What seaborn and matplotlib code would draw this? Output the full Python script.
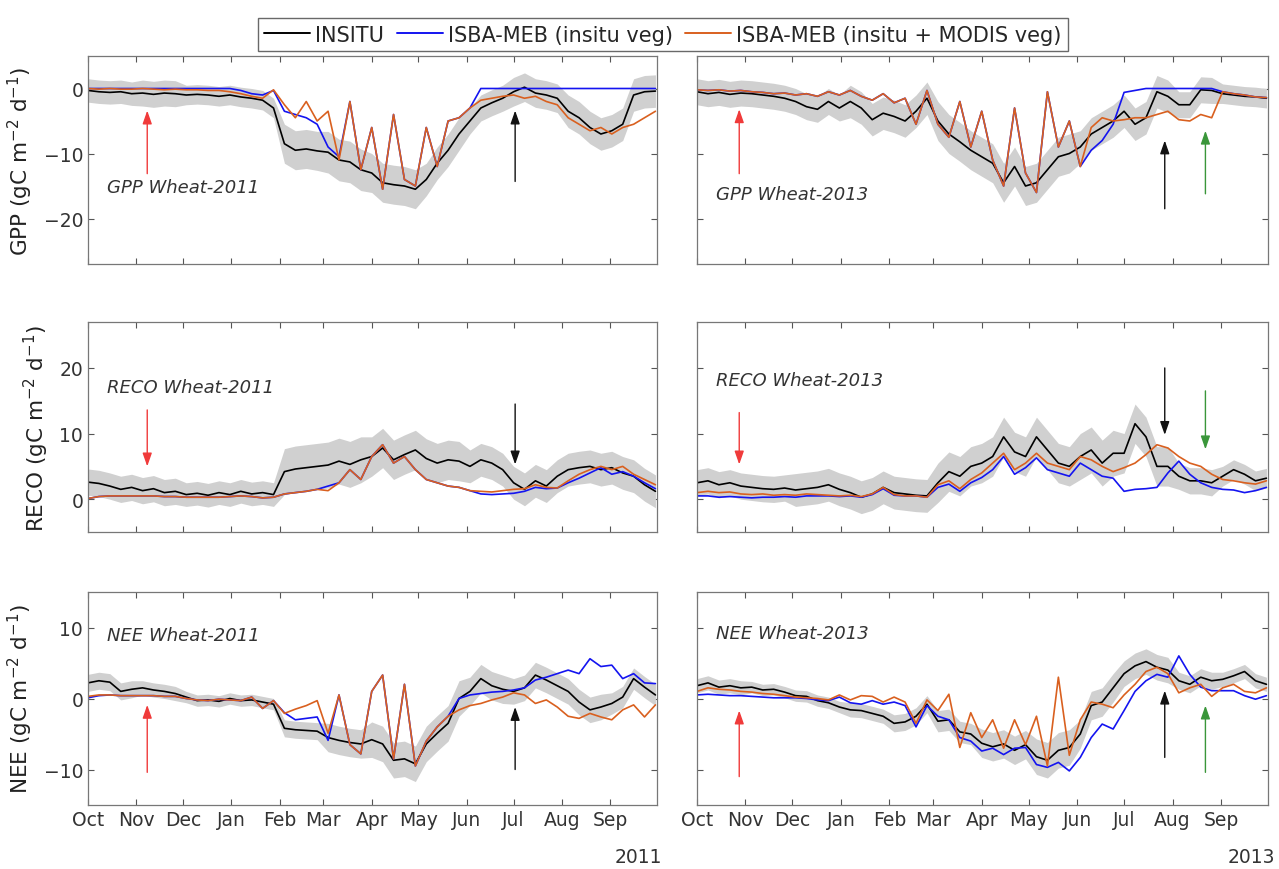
#!/usr/bin/env python3

import numpy as np
import pandas as pd
import matplotlib
matplotlib.use("Agg")
import matplotlib.pyplot as plt
import seaborn as sns
from matplotlib.lines import Line2D

# weekly samples, day 0 = 1 Oct
days = np.arange(0, 365, 7)

series_names = ["INSITU", "ISBA-MEB (insitu veg)", "ISBA-MEB (insitu + MODIS veg)"]
series_colors = ["#000000", "#1414f0", "#d9601f"]

# ---- GPP ----
gpp_2011_insitu = [-0.3, -0.5, -0.6, -0.5, -0.8, -0.7, -0.9, -0.7, -0.8, -1.0,
                   -0.9, -1.0, -1.2, -1.0, -1.3, -1.5, -1.8, -3.0, -8.5, -9.5,
                   -9.3, -9.6, -9.8, -11.0, -11.3, -12.5, -13.0, -14.5, -14.8, -15.0,
                   -15.5, -14.0, -11.5, -9.5, -7.0, -5.0, -3.0, -2.2, -1.5, -0.5,
                   0.2, -0.7, -1.0, -1.5, -3.5, -4.5, -6.0, -7.0, -6.5, -5.5,
                   -1.0, -0.5, -0.4]
gpp_2011_meb = [0.0, 0.0, 0.0, 0.0, 0.0, 0.0, 0.0, 0.0, 0.0, 0.0,
                0.0, 0.0, 0.0, 0.0, -0.3, -0.8, -1.0, -0.3, -3.5, -4.0,
                -4.5, -5.5, -9.0, -10.5, -2.0, -12.5, -6.0, -15.5, -4.0, -14.0,
                -15.0, -6.0, -12.0, -5.0, -4.5, -3.0, 0.0, 0.0, 0.0, 0.0,
                0.0, 0.0, 0.0, 0.0, 0.0, 0.0, 0.0, 0.0, 0.0, 0.0,
                0.0, 0.0, 0.0]
gpp_2011_modis = [0.0, -0.1, 0.0, -0.1, -0.1, 0.0, -0.1, -0.2, -0.1, -0.2,
                  -0.2, -0.3, -0.3, -0.5, -0.8, -1.2, -1.5, -0.2, -2.5, -4.5,
                  -2.0, -5.0, -3.5, -11.0, -2.0, -12.5, -6.0, -15.5, -4.0, -14.0,
                  -15.0, -6.0, -12.0, -5.0, -4.5, -3.0, -1.8, -1.5, -1.2, -1.0,
                  -1.5, -1.2, -2.0, -2.5, -4.5, -5.5, -6.5, -6.0, -7.0, -6.0,
                  -5.5, -4.5, -3.5]
gpp_2013_insitu = [-0.5, -0.8, -0.6, -0.9, -0.7, -0.8, -1.0, -1.2, -1.5, -2.0,
                   -2.8, -3.2, -2.0, -3.0, -2.0, -3.0, -4.8, -3.8, -4.3, -5.0,
                   -3.5, -1.5, -5.0, -7.0, -8.2, -9.5, -10.5, -11.5, -14.5, -12.0,
                   -15.0, -14.5, -12.5, -10.5, -10.0, -9.0, -7.0, -6.0, -5.0, -3.5,
                   -5.5, -4.5, -0.5, -1.2, -2.5, -2.5, -0.2, -0.3, -0.8, -1.0,
                   -1.2, -1.3, -1.5]
gpp_2013_meb = [-0.2, -0.3, -0.2, -0.4, -0.3, -0.5, -0.6, -0.8, -0.7, -1.0,
                -0.8, -1.2, -0.5, -1.0, -0.3, -1.2, -1.8, -0.8, -2.2, -1.5,
                -5.5, -0.3, -5.5, -7.5, -2.0, -9.0, -3.5, -11.0, -15.0, -3.0,
                -13.0, -16.0, -0.5, -9.0, -5.0, -12.0, -9.5, -8.0, -5.5, -0.6,
                -0.3, 0.0, 0.0, 0.0, 0.0, 0.0, 0.0, 0.0, -0.5, -0.8,
                -1.0, -1.3, -1.4]
gpp_2013_modis = [-0.2, -0.3, -0.2, -0.4, -0.3, -0.5, -0.6, -0.8, -0.7, -1.0,
                  -0.8, -1.2, -0.5, -1.0, -0.3, -1.2, -1.8, -0.8, -2.2, -1.5,
                  -5.5, -0.3, -5.5, -7.5, -2.0, -9.0, -3.5, -11.0, -15.0, -3.0,
                  -13.0, -16.0, -0.5, -9.0, -5.0, -12.0, -6.0, -4.5, -5.0, -4.8,
                  -4.5, -4.5, -4.0, -3.5, -4.8, -5.0, -4.0, -4.5, -0.5, -0.8,
                  -1.0, -1.3, -1.4]

# ---- RECO ----
reco_2011_insitu = [2.6, 2.4, 2.0, 1.5, 1.8, 1.3, 1.6, 1.0, 1.2, 0.7,
                    0.9, 0.6, 1.0, 0.7, 1.2, 0.8, 1.0, 0.7, 4.2, 4.6,
                    4.8, 5.0, 5.2, 5.8, 5.3, 6.0, 6.5, 7.8, 6.0, 6.8,
                    7.5, 6.2, 5.5, 6.0, 5.8, 5.0, 6.0, 5.5, 4.5, 2.5,
                    1.5, 2.8, 2.0, 3.5, 4.5, 4.8, 5.0, 4.5, 4.8, 4.0,
                    3.5, 2.2, 1.2]
reco_2011_meb = [0.1, 0.4, 0.5, 0.5, 0.5, 0.5, 0.5, 0.4, 0.4, 0.3,
                 0.3, 0.3, 0.3, 0.4, 0.5, 0.4, 0.2, 0.3, 0.8, 1.0,
                 1.2, 1.5, 2.0, 2.5, 4.5, 3.0, 6.5, 8.3, 5.5, 6.5,
                 4.5, 3.0, 2.5, 2.0, 1.8, 1.3, 0.8, 0.7, 0.8, 0.9,
                 1.2, 1.8, 1.6, 1.7, 2.5, 3.2, 4.0, 4.8, 3.8, 4.2,
                 3.5, 2.5, 1.6]
reco_2011_modis = [0.1, 0.4, 0.5, 0.5, 0.5, 0.5, 0.5, 0.4, 0.4, 0.3,
                   0.3, 0.3, 0.3, 0.4, 0.5, 0.4, 0.2, 0.3, 0.8, 1.0,
                   1.2, 1.5, 1.3, 2.5, 4.5, 3.0, 6.5, 8.3, 5.5, 6.5,
                   4.5, 3.0, 2.5, 2.0, 1.8, 1.3, 1.2, 1.1, 1.3, 1.5,
                   1.6, 2.2, 1.8, 1.7, 2.8, 3.8, 4.5, 5.0, 4.5, 5.0,
                   3.8, 3.0, 2.2]
reco_2013_insitu = [2.5, 2.8, 2.2, 2.5, 2.0, 1.8, 1.6, 1.5, 1.7, 1.4,
                    1.6, 1.8, 2.2, 1.5, 1.0, 0.3, 0.8, 1.8, 1.0, 0.8,
                    0.6, 0.5, 2.5, 4.2, 3.5, 5.0, 5.5, 6.5, 9.5, 7.2,
                    6.5, 9.5, 7.5, 5.5, 5.0, 6.5, 7.5, 5.5, 7.0, 7.0,
                    11.5, 9.5, 5.0, 5.0, 3.5, 2.8, 2.8, 2.5, 3.5, 4.5,
                    3.8, 2.8, 3.2]
reco_2013_meb = [0.5, 0.5, 0.3, 0.4, 0.3, 0.2, 0.3, 0.3, 0.4, 0.3,
                 0.5, 0.5, 0.5, 0.4, 0.5, 0.3, 0.7, 1.6, 0.6, 0.5,
                 0.5, 0.3, 1.8, 2.3, 1.2, 2.5, 3.3, 4.5, 6.5, 3.8,
                 4.8, 6.3, 4.5, 4.0, 3.5, 5.5, 4.5, 3.5, 3.2, 1.2,
                 1.5, 1.6, 1.8, 4.0, 5.8, 3.8, 2.5, 1.8, 1.5, 1.4,
                 1.0, 1.3, 1.8]
reco_2013_modis = [1.0, 1.2, 1.0, 1.1, 0.8, 0.7, 0.8, 0.6, 0.7, 0.6,
                   0.8, 0.7, 0.6, 0.5, 0.6, 0.4, 0.8, 1.8, 0.7, 0.5,
                   0.5, 0.3, 2.2, 2.8, 1.6, 3.0, 4.0, 5.5, 7.0, 4.5,
                   5.5, 7.0, 5.5, 5.0, 4.5, 6.5, 6.0, 5.0, 4.2, 4.8,
                   5.5, 6.8, 8.3, 7.8, 6.5, 5.5, 5.0, 3.8, 3.0, 2.8,
                   2.5, 2.3, 2.8]

# ---- NEE ----
nee_2011_insitu = [2.2, 2.5, 2.3, 1.0, 1.3, 1.5, 1.2, 1.0, 0.7, 0.2,
                   -0.3, -0.2, -0.4, 0.0, -0.3, -0.2, -0.5, -0.8, -4.2, -4.4,
                   -4.5, -4.6, -5.5, -5.9, -6.2, -6.4, -5.8, -6.4, -8.7, -8.5,
                   -9.2, -6.4, -4.9, -3.5, 0.0, 1.0, 2.8, 1.8, 1.3, 1.0,
                   1.5, 3.3, 2.6, 1.8, 1.0, -0.5, -1.6, -1.2, -0.7, 0.2,
                   2.8, 1.6, 0.5]
nee_2011_meb = [0.1, 0.4, 0.5, 0.4, 0.4, 0.4, 0.4, 0.3, 0.3, 0.0,
                -0.2, -0.3, -0.1, -0.2, -0.3, 0.2, -1.4, -0.3, -2.0, -3.0,
                -2.8, -2.6, -5.9, 0.5, -6.5, -7.8, 1.0, 3.3, -8.5, 2.0,
                -9.5, -6.0, -4.0, -2.5, 0.0, 0.5, 0.7, 0.9, 1.0, 1.2,
                1.5, 2.6, 3.0, 3.5, 4.0, 3.5, 5.6, 4.5, 4.7, 2.8,
                3.5, 2.2, 2.1]
nee_2011_modis = [0.3, 0.5, 0.5, 0.4, 0.4, 0.4, 0.4, 0.3, 0.3, 0.0,
                  -0.2, -0.3, -0.1, -0.2, -0.3, 0.2, -1.4, -0.3, -2.1, -1.5,
                  -1.0, -0.3, -4.9, 0.5, -6.5, -7.8, 1.0, 3.3, -8.5, 2.0,
                  -9.5, -6.0, -4.0, -2.5, -1.6, -1.0, -0.7, -0.2, 0.2, 0.8,
                  0.5, -0.7, -0.2, -1.2, -2.5, -2.8, -2.1, -2.6, -3.0, -1.6,
                  -0.9, -2.6, -0.9]
nee_2013_insitu = [1.8, 2.2, 1.6, 1.8, 1.5, 1.6, 1.2, 1.3, 0.9, 0.4,
                   0.3, -0.3, -0.6, -1.2, -1.6, -1.7, -2.1, -2.5, -3.5, -3.3,
                   -2.5, -0.8, -3.2, -3.0, -4.7, -5.0, -6.3, -6.8, -6.4, -7.3,
                   -6.5, -8.2, -8.7, -7.3, -6.9, -5.0, -1.0, -0.5, 1.5, 3.5,
                   4.6, 5.2, 4.4, 4.0, 2.5, 2.0, 3.0, 2.5, 2.7, 3.2,
                   3.8, 2.5, 2.0]
nee_2013_meb = [0.5, 0.6, 0.5, 0.4, 0.4, 0.3, 0.2, 0.1, 0.1, 0.1,
                0.0, -0.2, -0.3, 0.2, -0.6, -0.8, -0.3, -0.8, -0.5, -1.0,
                -4.0, -1.0, -2.5, -3.0, -5.5, -6.0, -7.4, -7.0, -7.9, -7.0,
                -6.9, -9.3, -9.7, -9.0, -10.2, -8.3, -5.5, -3.6, -4.3, -1.7,
                1.0, 2.5, 3.4, 3.0, 6.0, 3.4, 1.6, 1.1, 1.1, 1.1,
                0.4, -0.1, 0.4]
nee_2013_modis = [1.0, 1.5, 1.3, 1.2, 1.0, 0.9, 0.7, 0.6, 0.4, 0.2,
                  0.1, 0.0, -0.2, 0.5, -0.2, 0.4, 0.3, -0.5, 0.2, -0.5,
                  -3.5, -0.2, -1.7, 0.6, -6.9, -2.0, -5.5, -3.0, -7.0, -3.0,
                  -6.5, -2.5, -9.5, 3.0, -8.0, -3.0, -0.5, -0.8, -1.3, 0.5,
                  2.0, 3.8, 4.4, 3.5, 0.8, 1.5, 2.0, 0.3, 1.5, 2.0,
                  1.0, 0.8, 1.5]

# half width of the grey insitu uncertainty band, per month Oct..Sep
gpp_2011_band = [1.8, 2.0, 1.5, 1.5, 3.0, 3.2, 3.0, 2.5, 2.0, 2.2, 2.5, 2.5]
gpp_2013_band = [2.0, 2.0, 2.0, 2.5, 2.5, 3.0, 3.0, 3.0, 2.5, 2.5, 2.0, 1.5]
reco_2011_band = [2.0, 2.0, 1.8, 1.8, 3.5, 3.5, 3.0, 3.0, 2.5, 2.5, 2.5, 2.5]
reco_2013_band = [2.0, 2.0, 2.5, 2.5, 2.5, 3.0, 3.0, 3.0, 3.5, 3.0, 2.0, 1.5]
nee_2011_band = [1.2, 1.0, 0.8, 0.8, 1.2, 2.0, 2.5, 2.5, 2.0, 1.8, 1.8, 1.5]
nee_2013_band = [1.0, 0.8, 0.8, 1.0, 1.2, 1.5, 2.0, 2.5, 2.0, 1.8, 1.2, 1.0]

# arrows: (day, tail, head, colour)
arrows = {
    ("GPP", 2011): [(38, -13.1, -3.4, "#f03a3a"), (274, -14.3, -3.4, "#111111")],
    ("GPP", 2013): [(27, -13.1, -3.2, "#f03a3a"), (299, -18.5, -8.0, "#111111"),
                    (325, -16.2, -6.5, "#3a963a")],
    ("RECO", 2011): [(38, 13.6, 5.0, "#f03a3a"), (274, 14.5, 5.3, "#111111")],
    ("RECO", 2013): [(27, 13.2, 5.3, "#f03a3a"), (299, 20.0, 9.8, "#111111"),
                     (325, 16.5, 7.6, "#3a963a")],
    ("NEE", 2011): [(38, -10.4, -0.9, "#f03a3a"), (274, -10.0, -1.2, "#111111")],
    ("NEE", 2013): [(27, -11.0, -1.7, "#f03a3a"), (299, -8.3, 1.1, "#111111"),
                    (325, -10.4, -1.0, "#3a963a")],
}
label_y = {("GPP", 2011): -15.1, ("GPP", 2013): -16.2,
           ("RECO", 2011): 17.1, ("RECO", 2013): 18.1,
           ("NEE", 2011): 8.9, ("NEE", 2013): 9.2}

variables = ["GPP", "RECO", "NEE"]
years = [2011, 2013]
ylims = {"GPP": (-27, 5), "RECO": (-5, 27), "NEE": (-15, 15)}
yticks = {"GPP": [-20, -10, 0], "RECO": [0, 10, 20], "NEE": [-10, 0, 10]}

data = {
    ("GPP", 2011): (gpp_2011_insitu, gpp_2011_meb, gpp_2011_modis, gpp_2011_band),
    ("GPP", 2013): (gpp_2013_insitu, gpp_2013_meb, gpp_2013_modis, gpp_2013_band),
    ("RECO", 2011): (reco_2011_insitu, reco_2011_meb, reco_2011_modis, reco_2011_band),
    ("RECO", 2013): (reco_2013_insitu, reco_2013_meb, reco_2013_modis, reco_2013_band),
    ("NEE", 2011): (nee_2011_insitu, nee_2011_meb, nee_2011_modis, nee_2011_band),
    ("NEE", 2013): (nee_2013_insitu, nee_2013_meb, nee_2013_modis, nee_2013_band),
}

sns.set_style("ticks")
plt.rcParams["font.family"] = ["DejaVu Sans"]

W, H = 1279, 870
fig = plt.figure(figsize=(W / 100, H / 100), dpi=100)

col_x = [(88, 657), (697, 1268)]
row_y = [(57, 265), (323, 533), (593, 806)]

for r, var in enumerate(variables):
    for c, year in enumerate(years):
        x0, x1 = col_x[c]
        y0, y1 = row_y[r]
        ax = fig.add_axes([x0 / W, 1 - y1 / H, (x1 - x0) / W, (y1 - y0) / H])

        insitu, meb, modis, band = data[(var, year)]
        start = pd.Timestamp(year - 1, 10, 1)
        month_idx = ((start + pd.to_timedelta(days, unit="D")).month.values - 10) % 12
        hw = np.array(band)[month_idx]
        ins = np.array(insitu)
        ax.fill_between(days, ins - hw, ins + hw, color="#d0d0d0", lw=0, zorder=1)

        df = pd.DataFrame({
            "day": np.tile(days, 3),
            "value": np.concatenate([insitu, meb, modis]),
            "series": np.repeat(series_names, len(days)),
        })
        sns.lineplot(data=df, x="day", y="value", hue="series",
                     hue_order=series_names, palette=series_colors,
                     estimator=None, legend=False, linewidth=1.2, ax=ax, zorder=2)

        for day, tail, head, col in arrows[(var, year)]:
            ax.annotate("", xy=(day, head), xytext=(day, tail),
                        arrowprops=dict(arrowstyle="-|>,head_length=0.8,head_width=0.28",
                                        color=col, lw=1.0, shrinkA=0, shrinkB=0),
                        zorder=3)

        ax.text(12, label_y[(var, year)], f"{var} Wheat-{year}", style="italic",
                fontsize=13, color="#333333", va="center", ha="left")

        month_starts = pd.date_range(start, periods=12, freq="MS")
        ax.set_xticks((month_starts - start).days)
        if r == 2:
            ax.set_xticklabels([d.strftime("%b") for d in month_starts])
        else:
            ax.set_xticklabels([])
        ax.set_xlim(0, 365)
        ax.set_ylim(ylims[var])
        ax.set_yticks(yticks[var])
        ax.set_xlabel("")
        if c == 0:
            ax.set_ylabel(f"{var} (gC m$^{{-2}}$ d$^{{-1}}$)", fontsize=15.5,
                          color="#222222", labelpad=6)
        else:
            ax.set_ylabel("")
            ax.set_yticklabels([])
        ax.tick_params(direction="in", top=True, right=True, length=4, width=0.8,
                       color="#555555", labelcolor="#333333", labelsize=13.5)
        for sp in ax.spines.values():
            sp.set_color("#777777")
            sp.set_linewidth(0.9)

fig.text(662 / W, 1 - 858 / H, "2011", ha="right", va="center", fontsize=13.5, color="#333333")
fig.text(1275 / W, 1 - 858 / H, "2013", ha="right", va="center", fontsize=13.5, color="#333333")

handles = [Line2D([0], [0], color=col, lw=1.4) for col in series_colors]
leg = fig.legend(handles, series_names, loc="upper center", bbox_to_anchor=(663 / W, 1 - 9 / H),
                 ncol=3, frameon=True, fancybox=False, edgecolor="#444444", fontsize=15,
                 handlelength=2.2, handletextpad=0.25, columnspacing=0.6, borderpad=0.3)
leg.get_frame().set_linewidth(1.0)

fig.savefig("out.png", dpi=100)
